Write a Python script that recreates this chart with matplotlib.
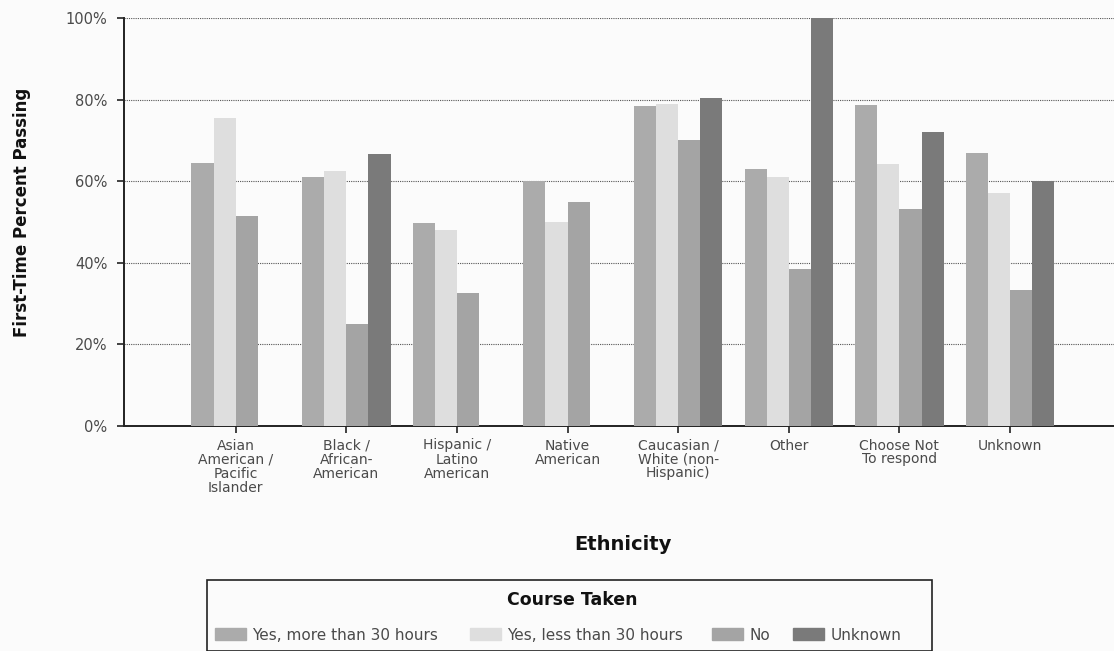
import matplotlib.pyplot as plt
import matplotlib.patches as mpatches
import numpy as np

# ---- data ----
categories = ['Asian\nAmerican /\nPacific\nIslander', 'Black /\nAfrican-\nAmerican',
              'Hispanic /\nLatino\nAmerican', 'Native\nAmerican',
              'Caucasian /\nWhite (non-\nHispanic)', 'Other',
              'Choose Not\nTo respond', 'Unknown']
series_names = ['Yes, more than 30 hours', 'Yes, less than 30 hours', 'No', 'Unknown']
yes_more = [64.5, 61.0, 49.7, 60.0, 78.5, 63.0, 78.7, 67.0]
yes_less = [75.5, 62.5, 48.0, 50.0, 79.0, 61.0, 64.3, 57.2]
no_course = [51.5, 25.0, 32.5, 55.0, 70.0, 38.5, 53.2, 33.3]
unknown = [np.nan, 66.7, np.nan, np.nan, 80.4, 100.0, 72.0, 60.0]
yticks = [0, 20, 40, 60, 80, 100]

colors = ['#ababab', '#dedede', '#a4a4a4', '#7a7a7a']
bg = '#fbfbfb'
txt = '#4a4a4a'

plt.rcParams['font.family'] = ['DejaVu Sans']

W, H = 1114, 651
fig = plt.figure(figsize=(W / 100, H / 100), dpi=100, facecolor=bg)
ax = fig.add_axes([124 / W, 1 - 426 / H, 1 - 124 / W, (426 - 18) / H])
ax.set_facecolor(bg)

x = np.arange(len(categories))
w = 0.2
all_series = [yes_more, yes_less, no_course, unknown]
for i, vals in enumerate(all_series):
    ax.bar(x + (i - 1.5) * w, vals, width=w, color=colors[i], zorder=3, linewidth=0)

ax.set_xlim(-1.01, 7.94)
ax.set_ylim(0, 100)
ax.set_yticks(yticks)
ax.set_yticklabels([f'{v}%' for v in yticks], fontsize=10.5, color=txt)
ax.set_xticks(x)
ax.set_xticklabels(categories, fontsize=10, color=txt, linespacing=1.0, va='top')
ax.tick_params(axis='both', direction='out', length=5, width=1.2, color='#222222')
ax.tick_params(axis='x', pad=4)
ax.tick_params(axis='y', pad=7)

for s in ['top', 'right']:
    ax.spines[s].set_visible(False)
for s in ['left', 'bottom']:
    ax.spines[s].set_linewidth(1.4)
    ax.spines[s].set_color('#222222')

ax.grid(True, axis='y', linestyle=(0, (1, 1)), color='#555555', linewidth=0.8, zorder=0)

fig.text(22 / W, 1 - 212 / H, 'First-Time Percent Passing', fontsize=12, fontweight='bold',
         rotation=90, ha='center', va='center', color='#111111')
fig.text(623 / W, 1 - 545 / H, 'Ethnicity', fontsize=14, fontweight='bold',
         ha='center', va='center', color='#111111')

# legend box
box = mpatches.Rectangle((207 / W, 0), (932 - 207) / W, (651 - 580) / H,
                         transform=fig.transFigure, facecolor='none', edgecolor='#222222',
                         linewidth=1.2)
fig.patches.append(box)
fig.text(572 / W, 1 - 600 / H, 'Course Taken', fontsize=12.5, fontweight='bold',
         ha='center', va='center', color='#111111')

entry_x = [215, 470, 712, 793]
for i in range(4):
    h = mpatches.Patch(color=colors[i], label=series_names[i])
    leg = fig.legend(handles=[h], loc='center left', frameon=False,
                     bbox_to_anchor=(entry_x[i] / W, 1 - 635 / H), fontsize=11,
                     handlelength=2.0, handleheight=0.8, handletextpad=0.45,
                     borderpad=0, borderaxespad=0, labelcolor=txt)

fig.savefig('out.png', dpi=100, facecolor=bg)
